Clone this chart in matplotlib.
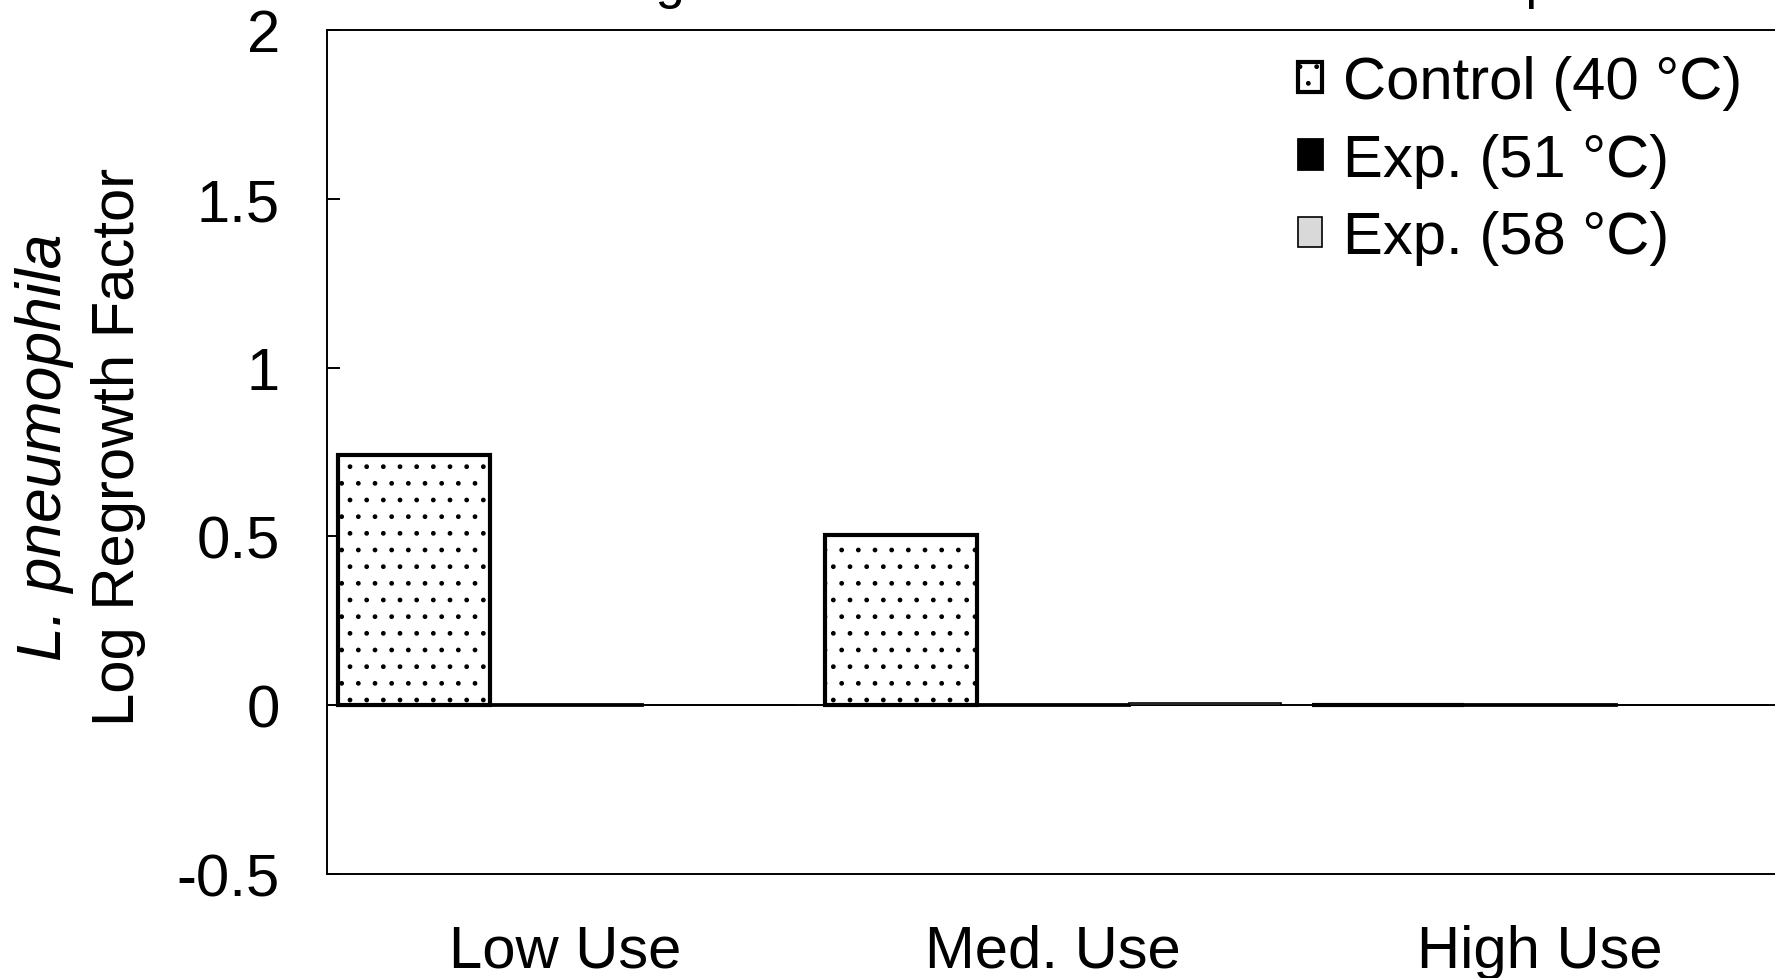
import numpy as np
import matplotlib
matplotlib.use("Agg")
import matplotlib.pyplot as plt

plt.rcParams["font.family"] = ["Liberation Sans", "DejaVu Sans"]
plt.rcParams["hatch.color"] = "black"
plt.rcParams["hatch.linewidth"] = 1.0

categories = ["Low Use", "Med. Use", "High Use"]
control_40 = [0.74, 0.505, 0.0]
exp_51 = [0.004, 0.003, 0.004]
exp_58 = [0.0, 0.006, 0.0]
series_labels = ["Control (40 °C)", "Exp. (51 °C)", "Exp. (58 °C)"]
yticks = [-0.5, 0, 0.5, 1, 1.5, 2]
ytick_labels = ["-0.5", "0", "0.5", "1", "1.5", "2"]

W, H = 1775, 979
fig = plt.figure(figsize=(W / 100, H / 100), dpi=100)
ax = fig.add_axes([327 / W, 1 - 875 / H, 1461 / W, (875 - 31) / H])

x = np.arange(len(categories))
bw = 0.312
ax.bar(x - bw, control_40, bw, facecolor="white", edgecolor="black",
       linewidth=3, hatch=".", label=series_labels[0], zorder=3)
ax.bar(x, exp_51, bw, facecolor="black", edgecolor="black",
       linewidth=2, label=series_labels[1], zorder=3)
ax.bar(x + bw, exp_58, bw, facecolor="#d9d9d9", edgecolor="black",
       linewidth=1.2, label=series_labels[2], zorder=3)

ax.axhline(0, color="black", linewidth=1.4, zorder=2)
ax.set_xlim(-0.49, 2.51)
ax.set_ylim(-0.5, 2)
ax.set_yticks(yticks)
ax.set_yticklabels(ytick_labels)
ax.set_xticks(x)
ax.set_xticklabels(categories)
ax.tick_params(axis="y", direction="in", length=9, width=1.4, labelsize=43, pad=34)
ax.tick_params(axis="x", length=0, labelsize=43, pad=36)
for s in ax.spines.values():
    s.set_linewidth(1.4)

leg = ax.legend(loc="upper left", bbox_to_anchor=(1298 / W, 1 - 56 / H),
                bbox_transform=fig.transFigure, frameon=False, fontsize=43,
                handlelength=0.4, handleheight=0.4, handletextpad=0.35,
                labelspacing=0.38, borderpad=0, borderaxespad=0)

fig.text(45 / W, 0.543, "L. pneumophila", rotation=90, style="italic",
         fontsize=45, ha="center", va="center")
fig.text(119 / W, 0.543, "Log Regrowth Factor", rotation=90,
         fontsize=43, ha="center", va="center")

# title sits above the visible area, only descenders show
fig.text(588 / W, 1 + 2 / H, "Regrowth at Different Water Heater Temperatures",
         fontsize=38, ha="left", va="baseline")

fig.savefig("out.png", dpi=100)
